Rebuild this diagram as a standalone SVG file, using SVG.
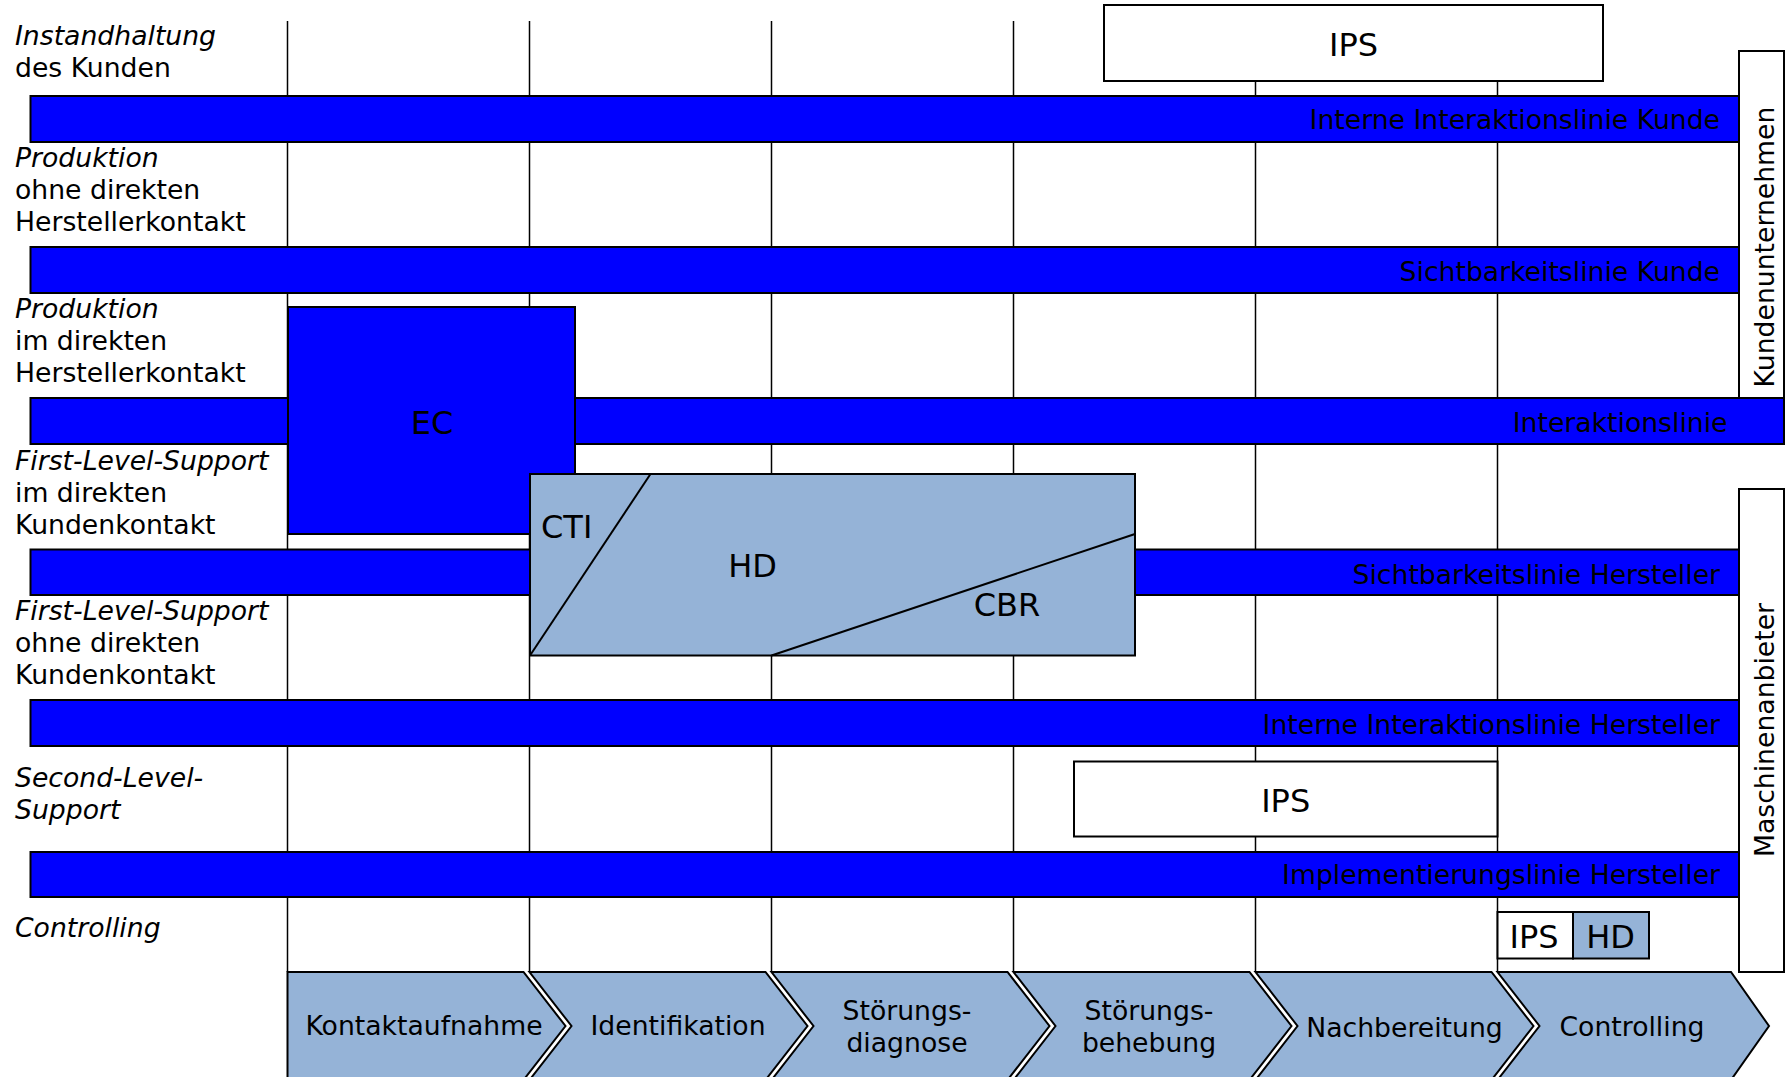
<svg xmlns="http://www.w3.org/2000/svg" width="1788" height="1077" viewBox="0 0 1788 1077">
  <style>
    text { font-family: "DejaVu Sans", Verdana, sans-serif; font-size: 26.67px; fill: #000; }
    .it { font-style: italic; }
    .big { font-size: 32px; }
    .mid { text-anchor: middle; }
    .end { text-anchor: end; }
    .grid { stroke: #000; stroke-width: 1.5; fill: none; }
    .bar { fill: #0000FF; stroke: #000; stroke-width: 2; }
    .white { fill: #FFFFFF; stroke: #000; stroke-width: 2; }
    .steel { fill: #95B3D7; stroke: #000; stroke-width: 2; }
    .thin { stroke: #000; stroke-width: 2; fill: none; }
  </style>

  <rect width="1788" height="1077" fill="#FFFFFF"/>

  <!-- column separators of the process steps -->
  <g id="grid" class="grid">
    <line x1="287.5" y1="21" x2="287.5" y2="972"/>
    <line x1="529.5" y1="21" x2="529.5" y2="972"/>
    <line x1="771.5" y1="21" x2="771.5" y2="972"/>
    <line x1="1013.5" y1="21" x2="1013.5" y2="972"/>
    <line x1="1255.5" y1="21" x2="1255.5" y2="972"/>
    <line x1="1497.5" y1="21" x2="1497.5" y2="972"/>
  </g>

  <!-- row captions -->
  <g id="row-labels">
    <text x="15" y="44.5"><tspan class="it">Instandhaltung</tspan><tspan x="15" y="77">des Kunden</tspan></text>
    <text x="15" y="167"><tspan class="it">Produktion</tspan><tspan x="15" y="199">ohne direkten</tspan><tspan x="15" y="231">Herstellerkontakt</tspan></text>
    <text x="15" y="318"><tspan class="it">Produktion</tspan><tspan x="15" y="350">im direkten</tspan><tspan x="15" y="382">Herstellerkontakt</tspan></text>
    <text x="15" y="470"><tspan class="it">First-Level-Support</tspan><tspan x="15" y="502">im direkten</tspan><tspan x="15" y="534">Kundenkontakt</tspan></text>
    <text x="15" y="620"><tspan class="it">First-Level-Support</tspan><tspan x="15" y="652">ohne direkten</tspan><tspan x="15" y="684">Kundenkontakt</tspan></text>
    <text x="15" y="787" class="it">Second-Level-<tspan x="15" y="819">Support</tspan></text>
    <text x="15" y="937" class="it">Controlling</text>
  </g>

  <!-- side brackets -->
  <g id="kundenunternehmen">
    <rect class="white" x="1739" y="51" width="45" height="393"/>
    <text class="mid" transform="translate(1774,247) rotate(-90)">Kundenunternehmen</text>
  </g>
  <g id="maschinenanbieter">
    <rect class="white" x="1739" y="489" width="45" height="483"/>
    <text class="mid" transform="translate(1774,730) rotate(-90)">Maschinenanbieter</text>
  </g>

  <!-- horizontal lines of the blueprint -->
  <g id="line-interne-kunde">
    <rect class="bar" x="30.5" y="96" width="1708.5" height="46"/>
    <text class="end" x="1720" y="129">Interne Interaktionslinie Kunde</text>
  </g>
  <g id="line-sichtbarkeit-kunde">
    <rect class="bar" x="30.5" y="247" width="1708.5" height="46"/>
    <text class="end" x="1720" y="281">Sichtbarkeitslinie Kunde</text>
  </g>
  <g id="line-interaktion">
    <rect class="bar" x="30.5" y="398" width="1753.5" height="46"/>
    <text class="end" x="1727.5" y="432">Interaktionslinie</text>
  </g>
  <g id="line-sichtbarkeit-hersteller">
    <rect class="bar" x="30.5" y="549.5" width="1708.5" height="45.5"/>
    <text class="end" x="1720" y="583.5">Sichtbarkeitslinie Hersteller</text>
  </g>
  <g id="line-interne-hersteller">
    <rect class="bar" x="30.5" y="700" width="1708.5" height="46"/>
    <text class="end" x="1720" y="734">Interne Interaktionslinie Hersteller</text>
  </g>
  <g id="line-implementierung">
    <rect class="bar" x="30.5" y="852" width="1708.5" height="45"/>
    <text class="end" x="1720" y="884">Implementierungslinie Hersteller</text>
  </g>

  <!-- systems -->
  <g id="ec">
    <rect class="bar" x="288" y="307" width="287" height="227"/>
    <text class="big mid" x="432" y="433.5">EC</text>
  </g>
  <g id="hd-cti-cbr">
    <rect class="steel" x="530" y="474" width="605" height="181.5"/>
    <line class="thin" x1="530" y1="655.5" x2="650.5" y2="474"/>
    <line class="thin" x1="771.5" y1="655.5" x2="1135" y2="534"/>
    <text class="big" x="541" y="538">CTI</text>
    <text class="big mid" x="752.5" y="577">HD</text>
    <text class="big mid" x="1007" y="616">CBR</text>
  </g>
  <g id="ips-kunde">
    <rect class="white" x="1104" y="5" width="499" height="76"/>
    <text class="big mid" x="1353.5" y="56">IPS</text>
  </g>
  <g id="ips-second-level">
    <rect class="white" x="1074" y="761.5" width="423.5" height="75"/>
    <text class="big mid" x="1285.7" y="811.5">IPS</text>
  </g>
  <g id="controlling-systems">
    <rect class="white" x="1497.5" y="912" width="75.5" height="46.5"/>
    <rect class="steel" x="1573" y="912" width="76" height="46.5"/>
    <text class="big mid" x="1534" y="947.5">IPS</text>
    <text class="big mid" x="1610.5" y="947.5">HD</text>
  </g>

  <!-- process chain -->
  <g id="step-kontaktaufnahme">
    <path class="steel" d="M287.5,972 H523.5 L565.5,1026 L523.5,1080 H287.5 Z"/>
    <text class="mid" x="424" y="1035">Kontaktaufnahme</text>
  </g>
  <g id="step-identifikation">
    <path class="steel" d="M529.5,972 H765.5 L807.5,1026 L765.5,1080 H529.5 L571.5,1026 Z"/>
    <text class="mid" x="678" y="1035">Identifikation</text>
  </g>
  <g id="step-diagnose">
    <path class="steel" d="M771.5,972 H1007.5 L1049.5,1026 L1007.5,1080 H771.5 L813.5,1026 Z"/>
    <text class="mid" x="907" y="1020">Störungs-<tspan x="907" y="1052">diagnose</tspan></text>
  </g>
  <g id="step-behebung">
    <path class="steel" d="M1013.5,972 H1249.5 L1291.5,1026 L1249.5,1080 H1013.5 L1055.5,1026 Z"/>
    <text class="mid" x="1149" y="1020">Störungs-<tspan x="1149" y="1052">behebung</tspan></text>
  </g>
  <g id="step-nachbereitung">
    <path class="steel" d="M1255.5,972 H1491.5 L1533.5,1026 L1491.5,1080 H1255.5 L1297.5,1026 Z"/>
    <text class="mid" x="1404.5" y="1036.5">Nachbereitung</text>
  </g>
  <g id="step-controlling">
    <path class="steel" d="M1497.5,972 H1731 L1769,1026 L1731,1080 H1497.5 L1539.5,1026 Z"/>
    <text class="mid" x="1632" y="1036">Controlling</text>
  </g>
</svg>
